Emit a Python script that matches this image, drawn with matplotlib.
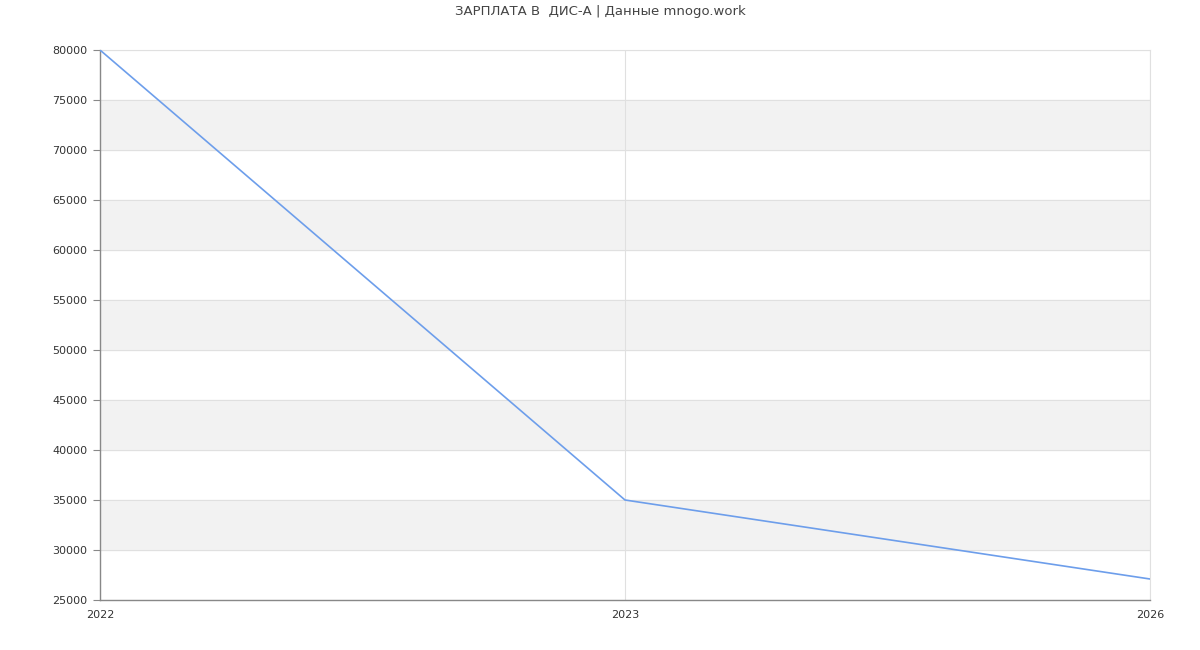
import matplotlib.pyplot as plt

years = ['2022', '2023', '2026']
salary = [80000, 35000, 27100]
y_ticks = list(range(25000, 80001, 5000))

fig = plt.figure(figsize=(12, 6.5), dpi=100)
ax = fig.add_axes([100 / 1200, 50 / 650, 1050 / 1200, 550 / 650])

# alternating bands
for lo in range(30000, 80000, 10000):
    ax.axhspan(lo, lo + 5000, color='#f2f2f2', zorder=0)

x = list(range(len(years)))
ax.plot(x, salary, color='#6d9eeb', linewidth=1.2, zorder=3)

ax.set_xlim(0, len(years) - 1)
ax.set_ylim(25000, 80000)
ax.set_xticks(x)
ax.set_xticklabels(years)
ax.set_yticks(y_ticks)
ax.set_yticklabels([str(v) for v in y_ticks])

ax.grid(True, color='#e0e0e0', linewidth=0.8, zorder=1)
ax.set_axisbelow(True)

for side in ['top', 'right']:
    ax.spines[side].set_color('#e0e0e0')
    ax.spines[side].set_linewidth(0.8)
for side in ['left', 'bottom']:
    ax.spines[side].set_color('#888888')
    ax.spines[side].set_linewidth(1.0)

ax.tick_params(axis='y', length=5, color='#888888', labelsize=8, labelcolor='#333333', pad=4)
ax.tick_params(axis='x', length=0, labelsize=8, labelcolor='#333333', pad=7)

fig.suptitle('ЗАРПЛАТА В  ДИС-А | Данные mnogo.work', y=1 - 12 / 650, va='center',
             fontsize=9.5, color='#444444')

fig.savefig('out.png', dpi=100)
